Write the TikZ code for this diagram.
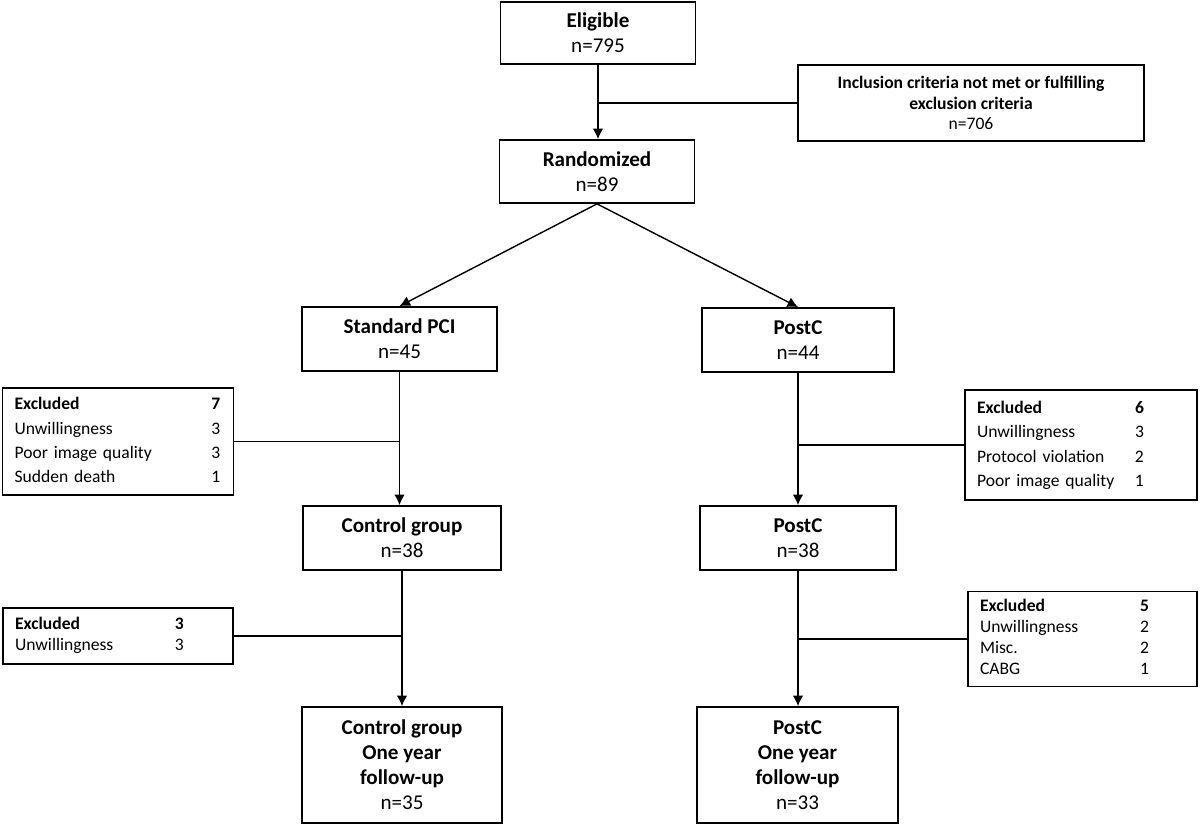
\documentclass[tikz,border=0pt]{standalone}
\usepackage{fontspec}
\setmainfont{Carlito}
\usepackage{array}
\newcolumntype{L}[1]{>{\raggedright\arraybackslash}p{#1}}
\usetikzlibrary{arrows.meta}

\begin{document}
\begin{tikzpicture}[x=0.02cm, y=-0.02cm,
        box/.style={draw, line width=1pt, align=center, inner sep=0pt,
            minimum width=3.9cm, minimum height=1.28cm,
            font=\fontsize{12}{14.2}\selectfont},
        exbox/.style={draw, line width=1pt, align=left, inner xsep=0.24cm,
            inner ysep=0pt},
        link/.style={line width=0.8pt},
        arr/.style={line width=0.8pt, -{Latex[length=6pt, width=6pt]}}]
        \useasboundingbox (0,0) rectangle (1200,824);

        \node[box, minimum height=1.24cm] (elig) at (598,33) {\textbf{Eligible}\\n=795};
        \node[box, minimum width=6.92cm, minimum height=1.52cm,
            font=\fontsize{10}{11.6}\selectfont] (incl) at (971,103)
            {\textbf{Inclusion criteria not met or fulfilling}\\\textbf{exclusion criteria}\\n=706};
        \node[box, minimum height=1.26cm] (rand) at (597,171.5) {\textbf{Randomized}\\n=89};

        \node[box] (pci) at (399.5,339) {\textbf{Standard PCI}\\n=45};
        \node[box, minimum width=3.84cm] (postc) at (798,340) {\textbf{PostC}\\n=44};

        \node[exbox, text width=4.14cm, minimum height=2.14cm,
            font=\fontsize{10}{13.8}\selectfont] (exa) at (118,441.5)
            {\begin{tabular}{@{}L{3.94cm}@{}l@{}}
                \textbf{Excluded} & \textbf{7}\\
                Unwillingness & 3\\
                Poor image quality & 3\\
                Sudden death & 1
            \end{tabular}};
        \node[exbox, text width=4.16cm, minimum height=2.2cm,
            font=\fontsize{10}{14}\selectfont] (exb) at (1081,445)
            {\begin{tabular}{@{}L{3.16cm}@{}l@{}}
                \textbf{Excluded} & \textbf{6}\\
                Unwillingness & 3\\
                Protocol violation & 2\\
                Poor image quality & 1
            \end{tabular}};

        \node[box, minimum width=3.96cm] (ctrl) at (402,538) {\textbf{Control group}\\n=38};
        \node[box, minimum width=3.92cm] (postcb) at (798,538) {\textbf{PostC}\\n=38};

        \node[exbox, text width=4.12cm, minimum height=1.12cm,
            font=\fontsize{10}{12}\selectfont] (exc) at (118,636)
            {\begin{tabular}{@{}L{3.2cm}@{}l@{}}
                \textbf{Excluded} & \textbf{3}\\
                Unwillingness & 3
            \end{tabular}};
        \node[exbox, text width=4.1cm, minimum height=1.9cm,
            font=\fontsize{10}{12}\selectfont] (exd) at (1082.5,639)
            {\begin{tabular}{@{}L{3.2cm}@{}l@{}}
                \textbf{Excluded} & \textbf{5}\\
                Unwillingness & 2\\
                Misc. & 2\\
                CABG & 1
            \end{tabular}};

        \node[box, minimum width=4cm, minimum height=2.32cm] (ctrly) at (402,765)
            {\textbf{Control group}\\\textbf{One year}\\\textbf{follow-up}\\n=35};
        \node[box, minimum width=4.02cm, minimum height=2.32cm] (postcy) at (797.5,765)
            {\textbf{PostC}\\\textbf{One year}\\\textbf{follow-up}\\n=33};

        \draw[arr] (elig.south) -- (elig.south |- rand.north);
        \draw[link] (incl.west) -- (incl.west -| elig.south);
        \draw[arr] (rand.south) -- (pci.north);
        \draw[arr] (rand.south) -- (postc.north);

        \draw[arr] (pci.south) -- (pci.south |- ctrl.north);
        \draw[link] (exa.east) -- (exa.east -| pci.south);
        \draw[arr] (postc.south) -- (postc.south |- postcb.north);
        \draw[link] (exb.west) -- (exb.west -| postc.south);

        \draw[arr] (ctrl.south) -- (ctrl.south |- ctrly.north);
        \draw[link] (exc.east) -- (exc.east -| ctrl.south);
        \draw[arr] (postcb.south) -- (postcb.south |- postcy.north);
        \draw[link] (exd.west) -- (exd.west -| postcb.south);
    \end{tikzpicture}
\end{document}
